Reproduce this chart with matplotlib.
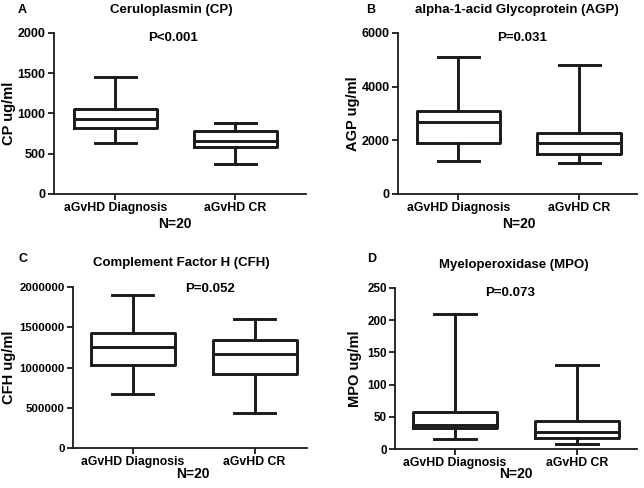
import matplotlib
matplotlib.use("Agg")
import matplotlib.pyplot as plt

plt.rcParams['font.family'] = ['Liberation Sans', 'DejaVu Sans']
plt.rcParams['font.weight'] = 'bold'

groups = ["aGvHD Diagnosis", "aGvHD CR"]

# five-number summaries: [whisker low, Q1, median, Q3, whisker high]
cp_diag = [633, 820, 932, 1056, 1453]
cp_cr = [373, 588, 662, 787, 882]
agp_diag = [1233, 1918, 2690, 3076, 5093]
agp_cr = [1158, 1482, 1918, 2279, 4794]
cfh_diag = [672000, 1025000, 1253000, 1423000, 1904000]
cfh_cr = [436000, 921000, 1166000, 1344000, 1606000]
mpo_diag = [15, 32, 38, 57, 210]
mpo_cr = [8.3, 17, 26, 43.5, 131]

titles = ["Ceruloplasmin (CP)", "alpha-1-acid Glycoprotein (AGP)",
          "Complement Factor H (CFH)", "Myeloperoxidase (MPO)"]
letters = ["A", "B", "C", "D"]
ylabels = ["CP ug/ml", "AGP ug/ml", "CFH ug/ml", "MPO ug/ml"]
pvalues = ["P<0.001", "P=0.031", "P=0.052", "P=0.073"]
yticks = [[0, 500, 1000, 1500, 2000],
          [0, 2000, 4000, 6000],
          [0, 500000, 1000000, 1500000, 2000000],
          [0, 50, 100, 150, 200, 250]]
nlabel = "N=20"

W, H = 644, 488
fig = plt.figure(figsize=(W / 100, H / 100), dpi=100)

# pixel geometry: left, right, top, bottom, xlim
geo = [
    (54, 306, 33, 194, (-0.51, 1.59)),
    (398, 637, 33, 194, (-0.50, 1.48)),
    (73, 307, 287, 448, (-0.49, 1.43)),
    (395, 637, 288, 449, (-0.49, 1.49)),
]
letter_pos = [(22, 10), (371, 10), (23, 259), (372, 259)]
title_pos = [(171, 10), (517, 10), (181, 263), (514, 265)]
p_pos = [(173, 38), (522, 38), (210, 289), (510, 293)]
n_pos = [(175, 224), (519, 224), (193, 474), (516, 474)]
ylab_x = [9, 353, 9, 355]
ytick_fs = [9, 9, 8.2, 8.4]

data = [(cp_diag, cp_cr), (agp_diag, agp_cr), (cfh_diag, cfh_cr), (mpo_diag, mpo_cr)]

for i in range(4):
    l, r, t, b, xl = geo[i]
    ax = fig.add_axes([l / W, 1 - b / H, (r - l) / W, (b - t) / H])
    stats = []
    for g, v in zip(groups, data[i]):
        stats.append(dict(label=g, whislo=v[0], q1=v[1], med=v[2], q3=v[3], whishi=v[4], fliers=[]))
    lw = 2.1
    ax.bxp(stats, positions=[0, 1], widths=0.69, showfliers=False,
           boxprops=dict(color='#1a1a1a', linewidth=lw),
           whiskerprops=dict(color='#1a1a1a', linewidth=lw),
           capprops=dict(color='#1a1a1a', linewidth=lw),
           medianprops=dict(color='#1a1a1a', linewidth=lw),
           capwidths=0.34)
    ax.set_xlim(*xl)
    ax.set_ylim(yticks[i][0], yticks[i][-1])
    ax.set_yticks(yticks[i])
    ax.set_yticklabels([str(v) for v in yticks[i]], fontsize=ytick_fs[i], fontweight='bold')
    ax.set_xticks([0, 1])
    ax.set_xticklabels(groups, fontsize=8.8, fontweight='bold')
    for s in ['top', 'right']:
        ax.spines[s].set_visible(False)
    for s in ['left', 'bottom']:
        ax.spines[s].set_linewidth(1.3)
        ax.spines[s].set_color('#1a1a1a')
    ax.tick_params(direction='out', length=4, width=1.3, color='#1a1a1a', pad=2)
    ax.patch.set_alpha(0)

    fig.text(letter_pos[i][0] / W, 1 - letter_pos[i][1] / H, letters[i], fontsize=9,
             fontweight='bold', ha='center', va='center')
    fig.text(title_pos[i][0] / W, 1 - title_pos[i][1] / H, titles[i], fontsize=9.5,
             fontweight='bold', ha='center', va='center')
    fig.text(p_pos[i][0] / W, 1 - p_pos[i][1] / H, pvalues[i], fontsize=9.5,
             fontweight='bold', ha='center', va='center')
    fig.text(n_pos[i][0] / W, 1 - n_pos[i][1] / H, nlabel, fontsize=10,
             fontweight='bold', ha='center', va='center')
    fig.text(ylab_x[i] / W, 1 - ((t + b) / 2) / H, ylabels[i], fontsize=10.5,
             fontweight='bold', ha='center', va='center', rotation=90)

fig.savefig("out.png", dpi=100, facecolor='white')
